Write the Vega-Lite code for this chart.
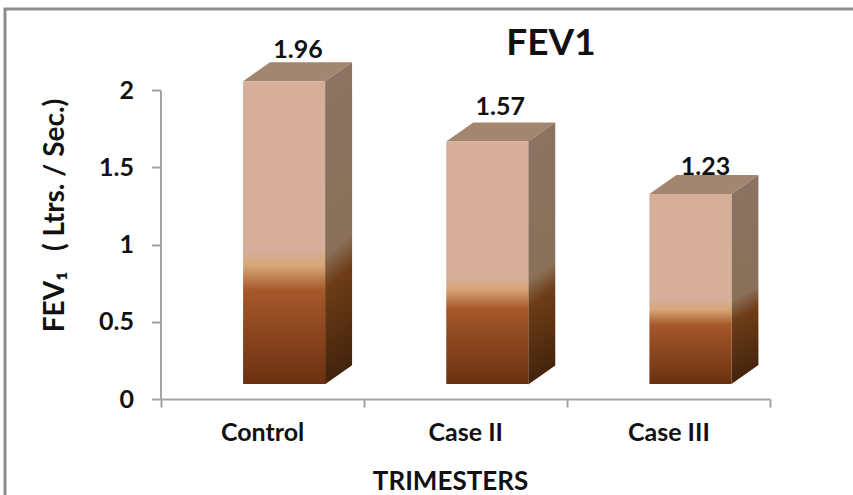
{
 "$schema":"https://vega.github.io/schema/vega-lite/v6.json",
 "autosize":{"type":"none"},
 "width":850,"height":488,
 "padding":{"left":5,"top":9,"right":-2,"bottom":-2},
 "background":"#ffffff",
 "config":{"view":{"stroke":"#8c8c8c","strokeWidth":3,"fill":"#ffffff"}},
 "title":{"text":"FEV1","font":"Lato","fontSize":37,"fontWeight":"bold","color":"#111111","anchor":"middle","frame":"group","dx":121,"offset":-54},
 "data":{"values":[
  {"category":"Control","value":1.96},
  {"category":"Case II","value":1.57},
  {"category":"Case III","value":1.23}
 ]},
 "encoding":{
  "x":{"field":"category","type":"nominal","sort":null,
   "scale":{"domain":["Control","Case II","Case III"],"range":[155.5,765],"paddingInner":0,"paddingOuter":0},
   "axis":{"orient":"bottom","offset":-98,"labelAngle":0,"tickBand":"extent","tickSize":8,"tickWidth":2,"tickColor":"#a3a3a3","domainColor":"#a3a3a3","domainWidth":2,"labelFont":"Lato","labelFontWeight":"bold","labelFontSize":25,"labelColor":"#111111","labelPadding":13,
    "title":"TRIMESTERS","titleFont":"Lato","titleFontWeight":"bold","titleFontSize":26,"titleColor":"#111111","titleX":445,"titleY":82,"titleAnchor":"middle","titleBaseline":"middle"}},
  "y":{"field":"value","type":"quantitative",
   "scale":{"domain":[0,2],"range":[390,81],"nice":false},
   "axis":{"orient":"left","offset":-155.5,"values":[0,0.5,1,1.5,2],"format":"~g","grid":false,"tickSize":9,"tickWidth":2,"tickColor":"#a3a3a3","domainColor":"#a3a3a3","domainWidth":2,"labelFont":"Lato","labelFontWeight":"bold","labelFontSize":25,"labelColor":"#111111","labelPadding":18,
    "title":"FEV₁\u00a0\u00a0\u00a0( Ltrs. / Sec.)","titleFont":"Lato","titleFontWeight":"bold","titleFontSize":28,"titleColor":"#111111","titleX":-105,"titleY":206,"titleAnchor":"middle","titleBaseline":"middle"}}
 },
 "layer":[
  {"mark":{"type":"point","filled":true,"opacity":1,"size":4,"strokeWidth":0,"xOffset":22,"yOffset":-15,"fill":"#a38670","shape":"M-41 0L-14 -19L68 -19L41 0Z"}},
  {"mark":{"type":"point","filled":true,"opacity":1,"size":4,"strokeWidth":0,"xOffset":22,"yOffset":-15,
    "fill":{"gradient":"linear","x1":0,"y1":0,"x2":0.07,"y2":1,"stops":[
     {"offset":0,"color":"#8c7363"},{"offset":0.6,"color":"#8a7058"},{"offset":0.7,"color":"#6e3d17"},{"offset":1,"color":"#43230c"}]}},
   "encoding":{"shape":{"field":"category","type":"nominal","legend":null,
    "scale":{"domain":["Control","Case II","Case III"],"range":[
     "M41 0L68 -19L68 284L41 303Z",
     "M41 0L68 -19L68 224L41 243Z",
     "M41 0L68 -19L68 171L41 190Z"]}}}},
  {"mark":{"type":"bar","width":82,"xOffset":22,"yOffset":-15,"y2Offset":-15,
    "fill":{"gradient":"linear","x1":0,"y1":0,"x2":0,"y2":1,"stops":[
     {"offset":0,"color":"#d5af99"},{"offset":0.56,"color":"#d5af99"},{"offset":0.61,"color":"#d8a576"},{"offset":0.69,"color":"#a5582a"},{"offset":1,"color":"#6b3010"}]}},
   "encoding":{"y2":{"datum":0}}},
  {"transform":[{"filter":"datum.category !== 'Case II' && datum.category !== 'Case III'"}],
   "mark":{"type":"text","font":"Lato","fontSize":25,"fontWeight":"bold","color":"#111111","dx":36,"dy":-46,"baseline":"middle"},
   "encoding":{"text":{"field":"value","type":"quantitative","format":".2f"}}},
  {"transform":[{"filter":"datum.category === 'Case II'"}],
   "mark":{"type":"text","font":"Lato","fontSize":25,"fontWeight":"bold","color":"#111111","dx":35,"dy":-49,"baseline":"middle"},
   "encoding":{"text":{"field":"value","type":"quantitative","format":".2f"}}},
  {"transform":[{"filter":"datum.category === 'Case III'"}],
   "mark":{"type":"text","font":"Lato","fontSize":25,"fontWeight":"bold","color":"#111111","dx":37,"dy":-42,"baseline":"middle"},
   "encoding":{"text":{"field":"value","type":"quantitative","format":".2f"}}}
 ]
}
